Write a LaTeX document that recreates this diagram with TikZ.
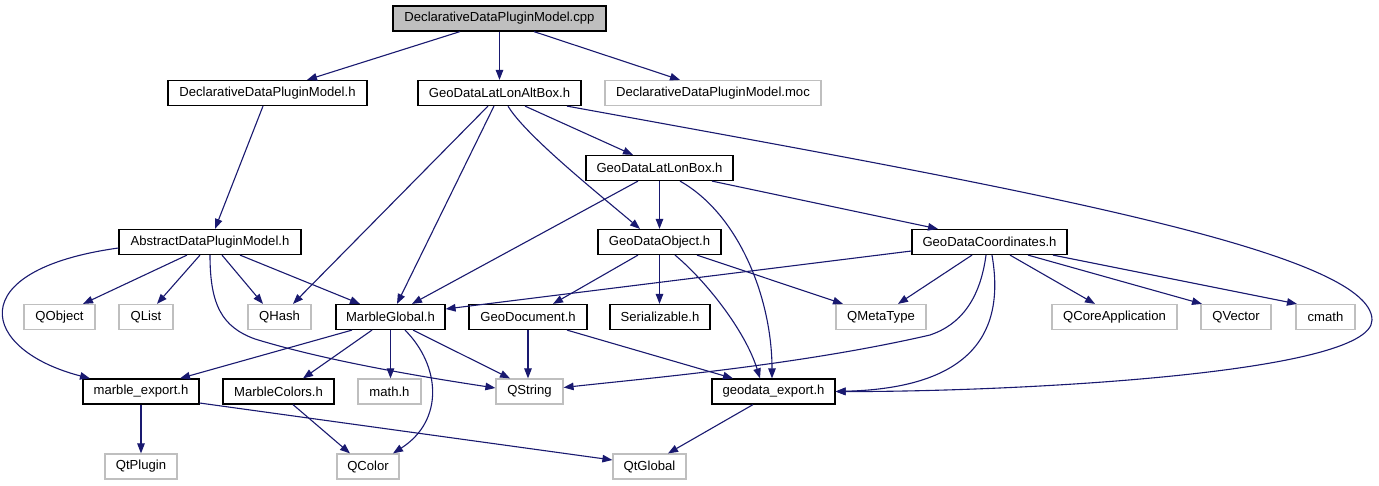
\documentclass[tikz,border=0pt]{standalone}
\usepackage{fontspec}
\setmainfont{Liberation Sans}
\usetikzlibrary{arrows.meta}
\definecolor{edgec}{HTML}{191970}
\definecolor{greyb}{HTML}{BFBFBF}
\begin{document}
\begin{tikzpicture}[x=1pt,y=-1pt,
  every node/.style={font=\fontsize{13.1}{15}\selectfont, inner sep=0pt, minimum height=25pt, anchor=center},
  doc/.style={draw=black, line width=1.2pt, fill=white},
  ext/.style={draw=greyb, line width=1.2pt, fill=white},
  root/.style={draw=black, line width=1.2pt, fill=greyb},
  edge/.style={draw=edgec, line width=1.1pt, -{Triangle[length=10pt,width=7.5pt]}}
]
\useasboundingbox (0,0) rectangle (1379,485);
\fill[white] (0,0) rectangle (1379,485);
% nodes
\node[root, minimum width=213pt] (cpp) at (499.5,18.5) {DeclarativeDataPluginModel.cpp};
\node[doc, minimum width=199pt] (ddpmh) at (267.5,93) {DeclarativeDataPluginModel.h};
\node[doc, minimum width=163pt] (altbox) at (499.5,93) {GeoDataLatLonAltBox.h};
\node[ext, minimum width=216pt] (moc) at (713,93) {DeclarativeDataPluginModel.moc};
\node[doc, minimum width=147pt] (llbox) at (659.5,168) {GeoDataLatLonBox.h};
\node[doc, minimum width=182pt] (abs) at (210,242) {AbstractDataPluginModel.h};
\node[doc, minimum width=123pt] (gdo) at (659.5,242) {GeoDataObject.h};
\node[doc, minimum width=155pt] (gdc) at (989.5,242) {GeoDataCoordinates.h};
\node[ext, minimum width=71pt] (qobject) at (59.5,317) {QObject};
\node[ext, minimum width=54pt] (qlist) at (146,317) {QList};
\node[ext, minimum width=63pt] (qhash) at (279.5,317) {QHash};
\node[doc, minimum width=109pt] (mglobal) at (390.5,317) {MarbleGlobal.h};
\node[doc, minimum width=118pt] (gdoc) at (528,317) {GeoDocument.h};
\node[doc, minimum width=100pt] (serial) at (660,317) {Serializable.h};
\node[ext, minimum width=90pt] (qmeta) at (881,317) {QMetaType};
\node[ext, minimum width=125pt] (qcore) at (1114.5,317) {QCoreApplication};
\node[ext, minimum width=70pt] (qvector) at (1236,317) {QVector};
\node[ext, minimum width=59pt] (cmath) at (1325.5,317) {cmath};
\node[doc, minimum width=116pt] (mexport) at (141,391.5) {marble\_export.h};
\node[doc, minimum width=111pt] (mcolors) at (278.5,391.5) {MarbleColors.h};
\node[ext, minimum width=63pt] (math) at (389.5,391.5) {math.h};
\node[ext, minimum width=67pt] (qstring) at (529.5,391.5) {QString};
\node[doc, minimum width=123pt] (gexport) at (773.5,391.5) {geodata\_export.h};
\node[ext, minimum width=72pt] (qtplugin) at (141,466.5) {QtPlugin};
\node[ext, minimum width=62pt] (qcolor) at (368,466.5) {QColor};
\node[ext, minimum width=73pt] (qtglobal) at (649.5,466.5) {QtGlobal};
% edges
\draw[edge] ([xshift=-39.5]cpp.south) -- ([xshift=39.5]ddpmh.north);
\draw[edge] (cpp.south) -- (altbox.north);
\draw[edge] ([xshift=34.5]cpp.south) -- ([xshift=-33]moc.north);
\draw[edge] ([xshift=-4.5]ddpmh.south) -- ([xshift=5]abs.north);
\draw[edge] ([xshift=-11.5]altbox.south) -- ([xshift=13.5]qhash.north);
\draw[edge] ([xshift=-5.5]altbox.south) -- ([xshift=6.5]mglobal.north);
\draw[edge] ([xshift=8.5]altbox.south) .. controls (525,135) and (600,195) .. ([xshift=-19.5]gdo.north);
\draw[edge] ([xshift=25.5]altbox.south) -- ([xshift=-26.5]llbox.north);
\draw[edge] ([xshift=67.5]altbox.south) .. controls (1000,185) and (1372,250) .. (1372,320) .. controls (1372,375) and (1000,392) .. (gexport.east);
\draw[edge] ([xshift=-21.5]llbox.south) -- ([xshift=21.5]mglobal.north);
\draw[edge] (llbox.south) -- (llbox.south |- gdo.north);
\draw[edge] ([xshift=20.5]llbox.south) .. controls (740,215) and (772,300) .. ([xshift=-1.5]gexport.north);
\draw[edge] ([xshift=52.5]llbox.south) -- ([xshift=-51.5]gdc.north);
\draw[edge] ([yshift=-6]abs.west) .. controls (-40,270) and (-20,350) .. ([xshift=-51]mexport.north);
\draw[edge] ([xshift=-23]abs.south) -- ([xshift=23.5]qobject.north);
\draw[edge] ([xshift=-10]abs.south) -- ([xshift=11]qlist.north);
\draw[edge] ([xshift=12]abs.south) -- ([xshift=-16.5]qhash.north);
\draw[edge] ([xshift=30]abs.south) -- ([xshift=-30.5]mglobal.north);
\draw[edge] (abs.south) .. controls (210,305) and (222,327) .. (255,339) .. controls (330,362) and (430,378) .. ([yshift=3.5]qstring.west);
\draw[edge] ([xshift=-21.5]gdo.south) -- ([xshift=25]gdoc.north);
\draw[edge] (gdo.south) -- (gdo.south |- serial.north);
\draw[edge] ([xshift=37.5]gdo.south) -- ([xshift=-38]qmeta.north);
\draw[edge] ([xshift=15.5]gdo.south) .. controls (705,280) and (745,330) .. ([xshift=-13.5]gexport.north);
\draw[edge] ([yshift=-9]gdc.west) -- ([yshift=8]mglobal.east);
\draw[edge] ([xshift=-17.5]gdc.south) -- ([xshift=17]qmeta.north);
\draw[edge] ([xshift=-3.5]gdc.south) .. controls (980,300) and (960,325) .. (930,335) .. controls (800,365) and (650,378) .. ([yshift=4]qstring.east);
\draw[edge] ([xshift=2.5]gdc.south) .. controls (1005,330) and (975,388) .. (gexport.east);
\draw[edge] ([xshift=20.5]gdc.south) -- ([xshift=-19.5]qcore.north);
\draw[edge] ([xshift=38.5]gdc.south) -- ([xshift=-34]qvector.north);
\draw[edge] ([xshift=63.5]gdc.south) -- ([xshift=-28.5]cmath.north);
\draw[edge] ([xshift=-38.5]mglobal.south) -- ([xshift=39]mexport.north);
\draw[edge] ([xshift=-18.5]mglobal.south) -- ([xshift=24.5]mcolors.north);
\draw[edge] (mglobal.south) -- (mglobal.south |- math.north);
\draw[edge] ([xshift=22.5]mglobal.south) -- ([xshift=-19.5]qstring.north);
\draw[edge] ([xshift=14.5]mglobal.south) .. controls (440,365) and (445,420) .. ([xshift=25]qcolor.north);
\draw[edge] (gdoc.south) -- (gdoc.south |- qstring.north);
\draw[edge] ([xshift=39]gdoc.south) -- ([xshift=-40.5]gexport.north);
\draw[edge] (mexport.south) -- (qtplugin.north);
\draw[edge] ([yshift=-11.5]mexport.east) -- ([yshift=6.5]qtglobal.west);
\draw[edge] ([xshift=14.5]mcolors.south) -- ([xshift=-18]qcolor.north);
\draw[edge] ([xshift=-20.5]gexport.south) -- ([xshift=18.5]qtglobal.north);
\end{tikzpicture}
\end{document}
